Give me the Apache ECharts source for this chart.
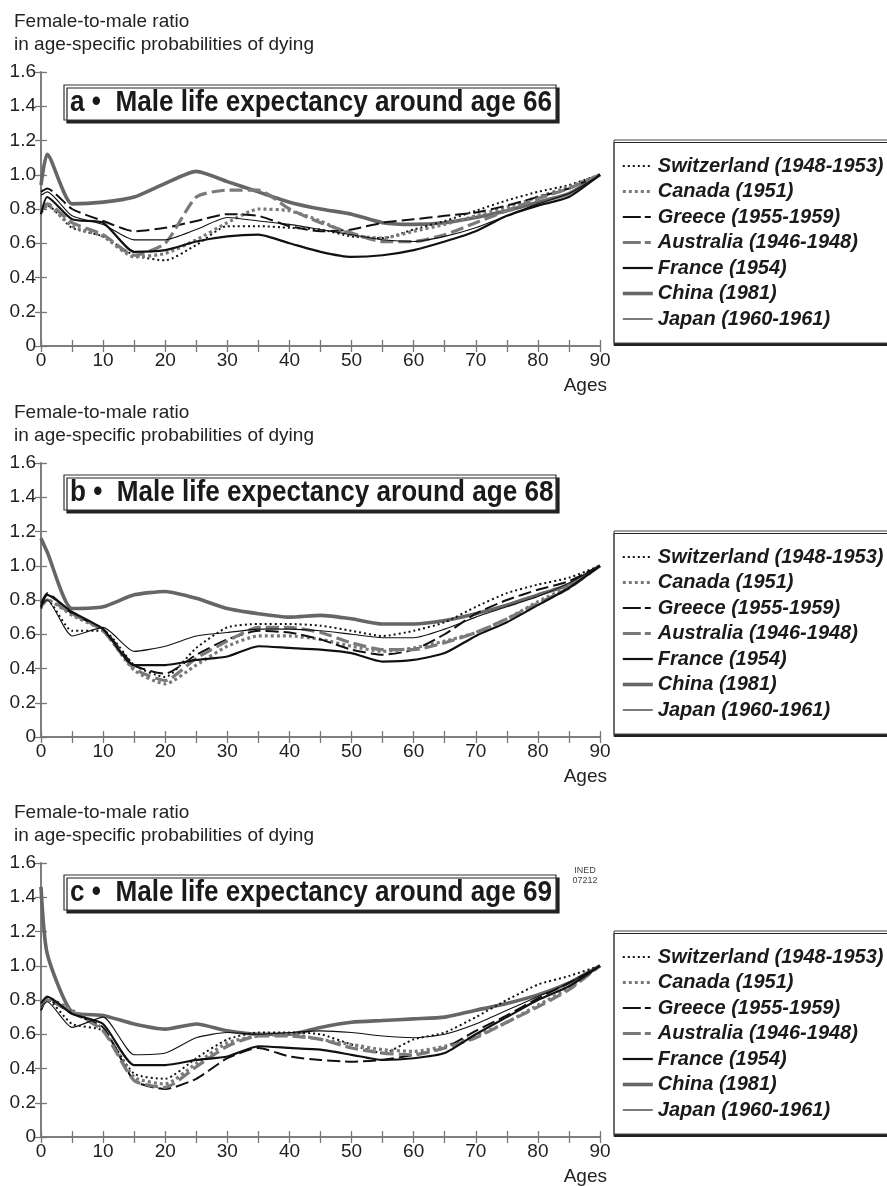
<!DOCTYPE html>
<html><head><meta charset="utf-8">
<script src="https://cdn.jsdelivr.net/npm/echarts@6/dist/echarts.min.js"></script>
<style>html,body{margin:0;padding:0;background:#fff}#c{width:887px;height:1186px}</style>
</head><body><div id="c"></div>
<script>
const ages = [0,1,5,10,15,20,25,30,35,40,45,50,55,60,65,70,75,80,85,90];
const countries = ['Switzerland (1948-1953)','Canada (1951)','Greece (1955-1959)','Australia (1946-1948)','France (1954)','China (1981)','Japan (1960-1961)'];
const panelTitles = ['a •  Male life expectancy around age 66','b •  Male life expectancy around age 68','c •  Male life expectancy around age 69'];
const yTickValues = [0,0.2,0.4,0.6,0.8,1.0,1.2,1.4,1.6];
const xTickLabels = [0,10,20,30,40,50,60,70,80,90];

// Panel a
const a_switzerland = [0.78,0.82,0.69,0.64,0.53,0.50,0.59,0.70,0.70,0.69,0.68,0.64,0.63,0.68,0.73,0.79,0.85,0.90,0.94,1.0];
const a_canada      = [0.78,0.82,0.70,0.64,0.52,0.54,0.62,0.72,0.80,0.79,0.73,0.65,0.63,0.67,0.71,0.76,0.81,0.87,0.93,1.0];
const a_greece      = [0.90,0.92,0.80,0.73,0.67,0.69,0.73,0.77,0.76,0.70,0.67,0.68,0.72,0.74,0.76,0.78,0.82,0.87,0.92,1.0];
const a_australia   = [0.80,0.83,0.72,0.65,0.53,0.60,0.87,0.91,0.91,0.80,0.72,0.66,0.61,0.61,0.65,0.72,0.79,0.86,0.92,1.0];
const a_france      = [0.77,0.87,0.74,0.72,0.55,0.56,0.61,0.64,0.65,0.60,0.55,0.52,0.53,0.56,0.61,0.67,0.76,0.82,0.87,1.0];
const a_china       = [0.94,1.12,0.83,0.84,0.87,0.95,1.02,0.96,0.90,0.84,0.80,0.77,0.72,0.71,0.72,0.75,0.79,0.84,0.89,1.0];
const a_japan       = [0.88,0.90,0.76,0.71,0.62,0.62,0.68,0.75,0.73,0.71,0.68,0.65,0.62,0.61,0.64,0.69,0.76,0.83,0.89,1.0];

// Panel b
const b_switzerland = [0.75,0.80,0.62,0.62,0.42,0.35,0.52,0.64,0.66,0.66,0.65,0.62,0.59,0.62,0.67,0.76,0.84,0.89,0.93,1.0];
const b_canada      = [0.76,0.80,0.71,0.62,0.39,0.31,0.42,0.53,0.59,0.59,0.57,0.53,0.50,0.52,0.56,0.61,0.69,0.79,0.88,1.0];
const b_greece      = [0.78,0.84,0.72,0.63,0.42,0.37,0.48,0.57,0.62,0.61,0.57,0.51,0.48,0.51,0.60,0.72,0.80,0.86,0.91,1.0];
const b_australia   = [0.77,0.80,0.72,0.62,0.40,0.33,0.46,0.56,0.64,0.64,0.61,0.55,0.51,0.51,0.55,0.61,0.69,0.78,0.87,1.0];
const b_france      = [0.76,0.83,0.73,0.63,0.42,0.42,0.45,0.47,0.53,0.52,0.51,0.49,0.44,0.45,0.49,0.59,0.67,0.77,0.87,1.0];
const b_china       = [1.16,1.08,0.75,0.76,0.83,0.85,0.81,0.75,0.72,0.70,0.71,0.69,0.66,0.66,0.68,0.72,0.77,0.83,0.89,1.0];
const b_japan       = [0.77,0.80,0.59,0.64,0.50,0.53,0.59,0.61,0.63,0.63,0.62,0.60,0.58,0.58,0.63,0.70,0.76,0.82,0.90,1.0];

// Panel c
const c_switzerland = [0.77,0.80,0.66,0.62,0.37,0.34,0.46,0.57,0.61,0.61,0.60,0.54,0.49,0.57,0.61,0.70,0.80,0.89,0.94,1.0];
const c_canada      = [0.78,0.81,0.74,0.63,0.35,0.31,0.43,0.55,0.59,0.60,0.57,0.54,0.51,0.50,0.53,0.59,0.67,0.77,0.87,1.0];
const c_greece      = [0.74,0.80,0.72,0.64,0.33,0.28,0.34,0.46,0.52,0.47,0.45,0.44,0.45,0.48,0.52,0.62,0.71,0.81,0.90,1.0];
const c_australia   = [0.76,0.80,0.73,0.62,0.33,0.29,0.41,0.53,0.59,0.59,0.57,0.52,0.49,0.48,0.52,0.58,0.67,0.76,0.86,1.0];
const c_france      = [0.78,0.82,0.72,0.66,0.42,0.42,0.45,0.47,0.53,0.52,0.51,0.48,0.45,0.46,0.49,0.60,0.70,0.80,0.88,1.0];
const c_china       = [1.46,1.07,0.73,0.71,0.66,0.63,0.66,0.62,0.60,0.60,0.64,0.67,0.68,0.69,0.70,0.74,0.78,0.83,0.90,1.0];
const c_japan       = [0.76,0.79,0.64,0.70,0.48,0.49,0.58,0.61,0.60,0.61,0.62,0.61,0.59,0.58,0.60,0.66,0.74,0.82,0.90,1.0];

const panels = [
  [a_switzerland,a_canada,a_greece,a_australia,a_france,a_china,a_japan],
  [b_switzerland,b_canada,b_greece,b_australia,b_france,b_china,b_japan],
  [c_switzerland,c_canada,c_greece,c_australia,c_france,c_china,c_japan]
];

const FONT = "'Liberation Sans', Arial, Helvetica, sans-serif";
const styles = [
  {color:'#111', width:2,   type:[2,3]},
  {color:'#7a7a7a', width:3.2, type:[3,3]},
  {color:'#111', width:2,   type:[13,5]},
  {color:'#7a7a7a', width:3.2, type:[13,5]},
  {color:'#111', width:2.2, type:'solid'},
  {color:'#666', width:3.6, type:'solid'},
  {color:'#111', width:1.1, type:'solid'}
];
const legendDash = [[2,3],[3,3],[18,4,6,20],[18,4,6,20],'solid','solid','solid'];

const offsets = [0, 391, 791];
const gridTop = 72, gridLeft = 41, gridW = 559, gridH = 274;

const grid=[], xAxis=[], yAxis=[], series=[], legend=[], graphic=[];
offsets.forEach((off,p)=>{
  grid.push({left:gridLeft, top:gridTop+off, width:gridW, height:gridH, show:false});
  const axLine = {show:true, lineStyle:{color:'#777', width:1.5}};
  const tick = {show:true, inside:true, length:6, lineStyle:{color:'#777',width:1.3}};
  const minor = {show:true, splitNumber:2, length:6, lineStyle:{color:'#777',width:1.3}};
  xAxis.push({gridIndex:p, type:'value', min:0, max:90, interval:10, position:'bottom',
    axisLine:axLine, axisTick:tick, minorTick:minor,
    splitLine:{show:false}, minorSplitLine:{show:false},
    axisLabel:{show:true, margin:5, fontSize:19, color:'#222', fontFamily:FONT,
      formatter:v=> xTickLabels.includes(v)? String(v):''}});
  xAxis.push({gridIndex:p, type:'value', min:0, max:90, interval:10, position:'top',
    axisLine:axLine, axisTick:tick, minorTick:minor,
    splitLine:{show:false}, axisLabel:{show:false}});
  yAxis.push({gridIndex:p, type:'value', min:0, max:1.6, interval:0.2, position:'left',
    axisLine:axLine, axisTick:tick, splitLine:{show:false},
    axisLabel:{show:true, margin:5, fontSize:19, color:'#222', fontFamily:FONT,
      formatter:v=>{ const t = yTickValues.find(u=>Math.abs(u-v)<1e-6); return t===undefined?'': (t===0?'0':t.toFixed(1)); }}});
  yAxis.push({gridIndex:p, type:'value', min:0, max:1.6, interval:0.2, position:'right',
    axisLine:axLine, axisTick:tick, splitLine:{show:false}, axisLabel:{show:false}});

  panels[p].forEach((vals,i)=>{
    const s = styles[i];
    series.push({type:'line', name:countries[i], xAxisIndex:2*p, yAxisIndex:2*p,
      data: ages.map((a,k)=>[a, vals[k]]), symbol:'none', showSymbol:false, smooth:0.2, silent:true,
      z: i===5?2:(i===6?4:3),
      lineStyle:{color:s.color, width:s.width, type:s.type, cap:'butt', join:'round'},
      itemStyle:{color:s.color}});
  });

  legend.push({
    data: countries.map((n,i)=>({name:n, itemStyle:{opacity:0, borderWidth:0},
      lineStyle:{color:styles[i].color, width:styles[i].width, type:legendDash[i], opacity:1}})),
    orient:'vertical', left:614, top:140+off, selectedMode:false,
    itemWidth:30, itemHeight:14, itemGap:5.5, padding:[16,40,14,7],
    backgroundColor:'#fff', borderColor:'#444', borderWidth:1,
    shadowColor:'#222', shadowBlur:0, shadowOffsetX:0, shadowOffsetY:2.5,
    itemStyle:{opacity:0, borderWidth:0},
    textStyle:{fontSize:20, lineHeight:20, fontWeight:'bold', fontStyle:'italic', color:'#1a1a1a', fontFamily:FONT}});

  graphic.push({type:'text', left:14, top:12+off, style:{text:'Female-to-male ratio', font:`19px ${FONT}`, fill:'#222'}});
  graphic.push({type:'text', left:14, top:35+off, style:{text:'in age-specific probabilities of dying', font:`19px ${FONT}`, fill:'#222'}});
  graphic.push({type:'text', right:280, top:376+off, style:{text:'Ages', font:`19px ${FONT}`, fill:'#222', textAlign:'right'}});
  graphic.push({type:'rect', shape:{x:64, y:85+off+(p===0?0:-1), width:492, height:35},
    style:{fill:'#fff', stroke:'#333', lineWidth:1.2, shadowColor:'#222', shadowBlur:0, shadowOffsetX:3, shadowOffsetY:3}, z:10});
  graphic.push({type:'text', x:70, y:102.5+off+(p===0?0:-1), scaleX:0.9, originX:0, originY:0,
    style:{text:panelTitles[p], font:`bold 29px ${FONT}`, fill:'#1a1a1a', textVerticalAlign:'middle'}, z:11});
});
graphic.push({type:'text', x:585, y:866, style:{text:'INED\n07212', font:`9px ${FONT}`, fill:'#444', textAlign:'center', lineHeight:10}, z:11});

const chart = echarts.init(document.getElementById('c'), null, {renderer:'canvas'});
chart.setOption({animation:false, backgroundColor:'#fff', grid, xAxis, yAxis, series, legend, graphic});
</script></body></html>
